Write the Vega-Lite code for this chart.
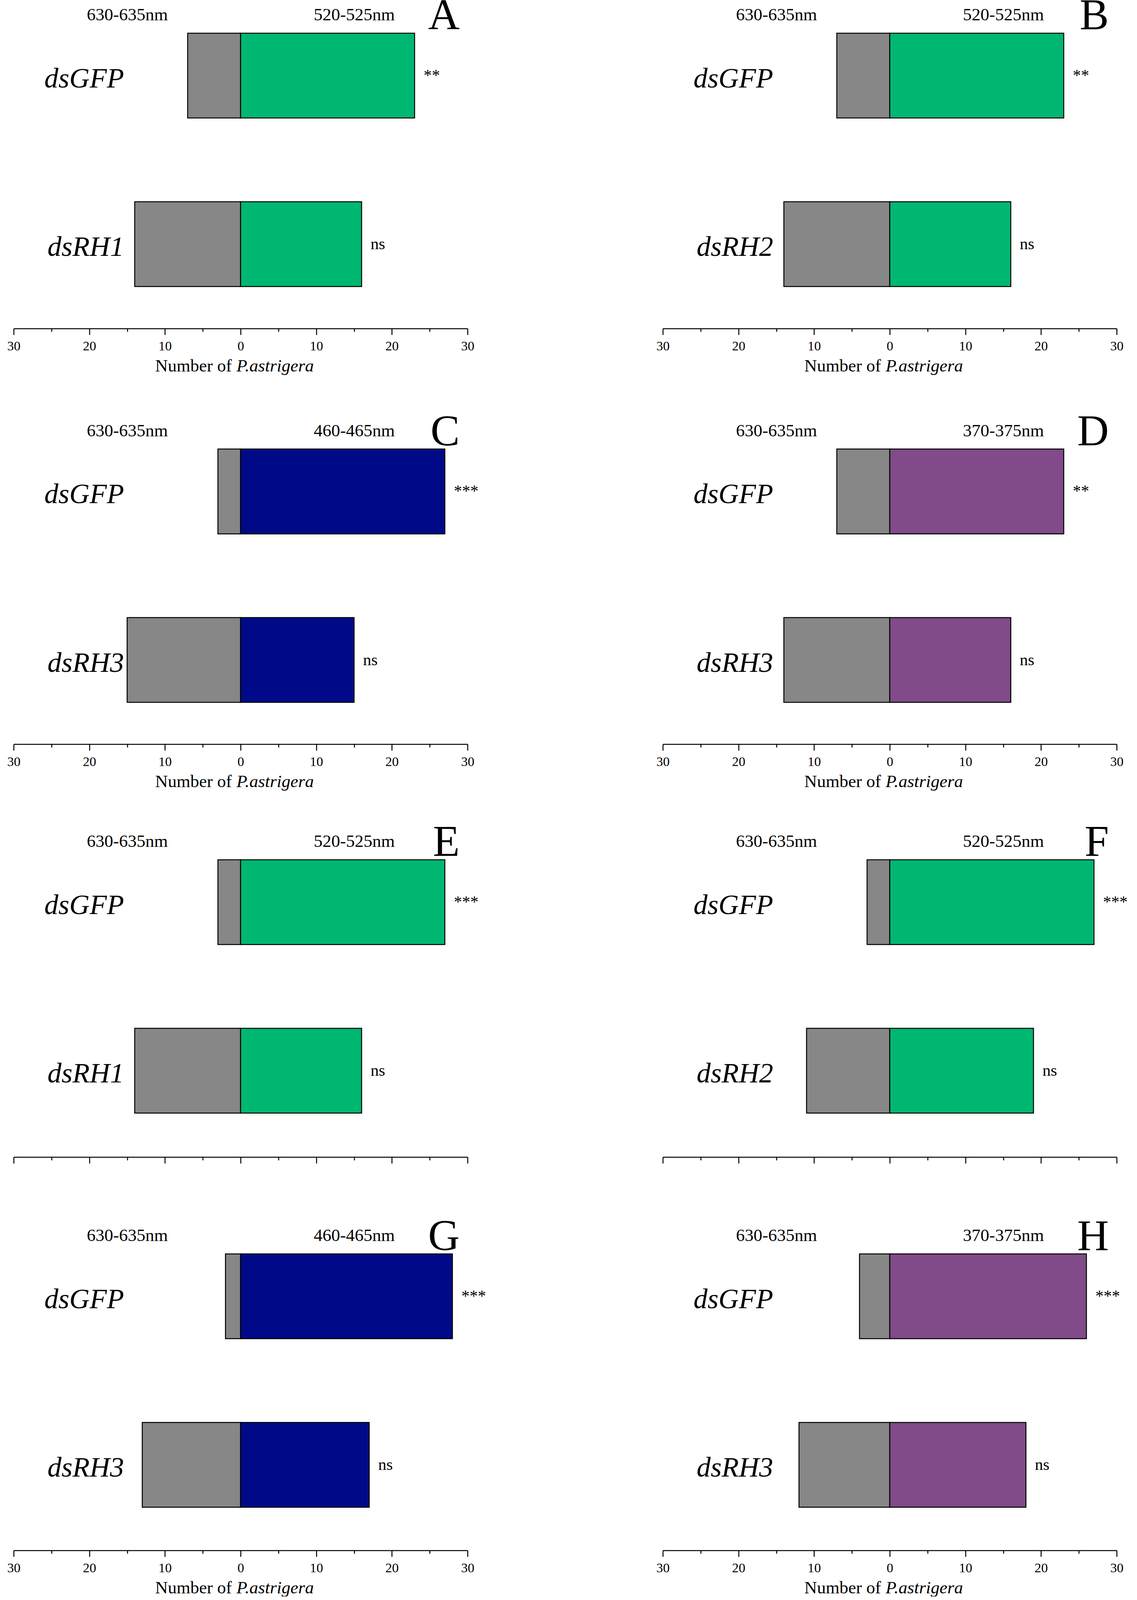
{
"$schema": "https://vega.github.io/schema/vega-lite/v6.json",
"background": "white",
"padding": {"left": 18, "top": -15, "right": 0, "bottom": 0},
"data": {"values": [
{"panel":"A","gene":"dsGFP","light":"630-635nm","signed_count":-7,"sig":""},
{"panel":"A","gene":"dsGFP","light":"520-525nm","signed_count":23,"sig":"**"},
{"panel":"A","gene":"dsRH1","light":"630-635nm","signed_count":-14,"sig":""},
{"panel":"A","gene":"dsRH1","light":"520-525nm","signed_count":16,"sig":"ns"},
{"panel":"B","gene":"dsGFP","light":"630-635nm","signed_count":-7,"sig":""},
{"panel":"B","gene":"dsGFP","light":"520-525nm","signed_count":23,"sig":"**"},
{"panel":"B","gene":"dsRH2","light":"630-635nm","signed_count":-14,"sig":""},
{"panel":"B","gene":"dsRH2","light":"520-525nm","signed_count":16,"sig":"ns"},
{"panel":"C","gene":"dsGFP","light":"630-635nm","signed_count":-3,"sig":""},
{"panel":"C","gene":"dsGFP","light":"460-465nm","signed_count":27,"sig":"***"},
{"panel":"C","gene":"dsRH3","light":"630-635nm","signed_count":-15,"sig":""},
{"panel":"C","gene":"dsRH3","light":"460-465nm","signed_count":15,"sig":"ns"},
{"panel":"D","gene":"dsGFP","light":"630-635nm","signed_count":-7,"sig":""},
{"panel":"D","gene":"dsGFP","light":"370-375nm","signed_count":23,"sig":"**"},
{"panel":"D","gene":"dsRH3","light":"630-635nm","signed_count":-14,"sig":""},
{"panel":"D","gene":"dsRH3","light":"370-375nm","signed_count":16,"sig":"ns"},
{"panel":"E","gene":"dsGFP","light":"630-635nm","signed_count":-3,"sig":""},
{"panel":"E","gene":"dsGFP","light":"520-525nm","signed_count":27,"sig":"***"},
{"panel":"E","gene":"dsRH1","light":"630-635nm","signed_count":-14,"sig":""},
{"panel":"E","gene":"dsRH1","light":"520-525nm","signed_count":16,"sig":"ns"},
{"panel":"F","gene":"dsGFP","light":"630-635nm","signed_count":-3,"sig":""},
{"panel":"F","gene":"dsGFP","light":"520-525nm","signed_count":27,"sig":"***"},
{"panel":"F","gene":"dsRH2","light":"630-635nm","signed_count":-11,"sig":""},
{"panel":"F","gene":"dsRH2","light":"520-525nm","signed_count":19,"sig":"ns"},
{"panel":"G","gene":"dsGFP","light":"630-635nm","signed_count":-2,"sig":""},
{"panel":"G","gene":"dsGFP","light":"460-465nm","signed_count":28,"sig":"***"},
{"panel":"G","gene":"dsRH3","light":"630-635nm","signed_count":-13,"sig":""},
{"panel":"G","gene":"dsRH3","light":"460-465nm","signed_count":17,"sig":"ns"},
{"panel":"H","gene":"dsGFP","light":"630-635nm","signed_count":-4,"sig":""},
{"panel":"H","gene":"dsGFP","light":"370-375nm","signed_count":26,"sig":"***"},
{"panel":"H","gene":"dsRH3","light":"630-635nm","signed_count":-12,"sig":""},
{"panel":"H","gene":"dsRH3","light":"370-375nm","signed_count":18,"sig":"ns"}
]},
"columns": 2,
"align": "each",
"spacing": {"row": 171, "column": 500},
"bounds": "flush",
"concat": [
  {"width":1162,"height":833,
   "title":{"text":"A","anchor":"end","frame":"group","fontSize":112,"baseline":"alphabetic","offset":-179,"dx":-20},
   "transform":[{"filter":"datum.panel === 'A'"}],
   "encoding":{"y":{"field":"gene","type":"nominal","sort":null,"scale":{"paddingInner":0.497,"paddingOuter":0.2138,"align":0.4173},"axis":{"title":null,"domain":false,"ticks":false,"tickSize":0,"labelPadding":-282,"labelFontSize":72,"labelFontStyle":"italic","labelAlign":"right","labelBaseline":"alphabetic","labelOffset":30}}},
   "layer":[
    {"transform":[{"filter":"datum.signed_count < 0"}],"mark":"bar","encoding":{"x":{"field":"signed_count","type":"quantitative","scale":{"domain":[-30,30],"nice":false},"axis":{"orient":"bottom","values":[-30,-25,-20,-15,-10,-5,0,5,10,15,20,25,30],"labelExpr":"datum.value % 10 === 0 ? '' + abs(datum.value) : ''","tickSize":{"condition":{"test":"datum.value % 10 === 0","value":16},"value":8},"tickWidth":2.5,"domainWidth":2.5,"labelFontSize":34,"labelPadding":12,"labelFlush":false,"labelOverlap":false,"labelBound":false,"title":"Number of","titleFontSize":45,"titleFontWeight":"normal","titleX":558,"titleY":109,"titleAlign":"right","titleBaseline":"alphabetic"}},"color":{"field":"light","type":"nominal","scale":{"domain":["630-635nm","520-525nm","460-465nm","370-375nm"],"range":["#878787","#00B772","#000A88","#814A89"]},"legend":null}}},
    {"transform":[{"filter":"datum.signed_count > 0"}],"mark":"bar","encoding":{"x":{"field":"signed_count","type":"quantitative","scale":{"domain":[-30,30],"nice":false},"axis":{"orient":"bottom","domain":false,"ticks":false,"labels":false,"title":"P.astrigera","titleFontStyle":"italic","titleFontSize":45,"titleFontWeight":"normal","titleX":570,"titleY":109,"titleAlign":"left","titleBaseline":"alphabetic"}},"color":{"field":"light","type":"nominal","scale":{"domain":["630-635nm","520-525nm","460-465nm","370-375nm"],"range":["#878787","#00B772","#000A88","#814A89"]},"legend":null}}},
    {"transform":[{"filter":"datum.signed_count > 0"}],"mark":{"type":"text","align":"left","baseline":"middle","dx":23,"fontSize":42},"encoding":{"x":{"field":"signed_count","type":"quantitative","scale":{"domain":[-30,30],"nice":false},"axis":{"orient":"top","values":[-15,15],"labelExpr":"datum.value < 0 ? '630-635nm' : '520-525nm'","domain":false,"ticks":false,"tickSize":0,"labelFontSize":45,"labelPadding":-43,"labelBaseline":"alphabetic","labelFlush":false,"labelOverlap":false,"title":null}},"text":{"field":"sig"}}}
   ],
   "resolve":{"axis":{"x":"independent"}}},
  {"width":1162,"height":833,
   "title":{"text":"B","anchor":"end","frame":"group","fontSize":112,"baseline":"alphabetic","offset":-179,"dx":-20},
   "transform":[{"filter":"datum.panel === 'B'"}],
   "encoding":{"y":{"field":"gene","type":"nominal","sort":null,"scale":{"paddingInner":0.497,"paddingOuter":0.2138,"align":0.4173},"axis":{"title":null,"domain":false,"ticks":false,"tickSize":0,"labelPadding":-282,"labelFontSize":72,"labelFontStyle":"italic","labelAlign":"right","labelBaseline":"alphabetic","labelOffset":30}}},
   "layer":[
    {"transform":[{"filter":"datum.signed_count < 0"}],"mark":"bar","encoding":{"x":{"field":"signed_count","type":"quantitative","scale":{"domain":[-30,30],"nice":false},"axis":{"orient":"bottom","values":[-30,-25,-20,-15,-10,-5,0,5,10,15,20,25,30],"labelExpr":"datum.value % 10 === 0 ? '' + abs(datum.value) : ''","tickSize":{"condition":{"test":"datum.value % 10 === 0","value":16},"value":8},"tickWidth":2.5,"domainWidth":2.5,"labelFontSize":34,"labelPadding":12,"labelFlush":false,"labelOverlap":false,"labelBound":false,"title":"Number of","titleFontSize":45,"titleFontWeight":"normal","titleX":558,"titleY":109,"titleAlign":"right","titleBaseline":"alphabetic"}},"color":{"field":"light","type":"nominal","scale":{"domain":["630-635nm","520-525nm","460-465nm","370-375nm"],"range":["#878787","#00B772","#000A88","#814A89"]},"legend":null}}},
    {"transform":[{"filter":"datum.signed_count > 0"}],"mark":"bar","encoding":{"x":{"field":"signed_count","type":"quantitative","scale":{"domain":[-30,30],"nice":false},"axis":{"orient":"bottom","domain":false,"ticks":false,"labels":false,"title":"P.astrigera","titleFontStyle":"italic","titleFontSize":45,"titleFontWeight":"normal","titleX":570,"titleY":109,"titleAlign":"left","titleBaseline":"alphabetic"}},"color":{"field":"light","type":"nominal","scale":{"domain":["630-635nm","520-525nm","460-465nm","370-375nm"],"range":["#878787","#00B772","#000A88","#814A89"]},"legend":null}}},
    {"transform":[{"filter":"datum.signed_count > 0"}],"mark":{"type":"text","align":"left","baseline":"middle","dx":23,"fontSize":42},"encoding":{"x":{"field":"signed_count","type":"quantitative","scale":{"domain":[-30,30],"nice":false},"axis":{"orient":"top","values":[-15,15],"labelExpr":"datum.value < 0 ? '630-635nm' : '520-525nm'","domain":false,"ticks":false,"tickSize":0,"labelFontSize":45,"labelPadding":-43,"labelBaseline":"alphabetic","labelFlush":false,"labelOverlap":false,"title":null}},"text":{"field":"sig"}}}
   ],
   "resolve":{"axis":{"x":"independent"}}},
  {"width":1162,"height":893,
   "title":{"text":"C","anchor":"end","frame":"group","fontSize":112,"baseline":"alphabetic","offset":-240,"dx":-20},
   "transform":[{"filter":"datum.panel === 'C'"}],
   "encoding":{"y":{"field":"gene","type":"nominal","sort":null,"scale":{"paddingInner":0.497,"paddingOuter":0.2833,"align":0.5628},"axis":{"title":null,"domain":false,"ticks":false,"tickSize":0,"labelPadding":-282,"labelFontSize":72,"labelFontStyle":"italic","labelAlign":"right","labelBaseline":"alphabetic","labelOffset":30}}},
   "layer":[
    {"transform":[{"filter":"datum.signed_count < 0"}],"mark":"bar","encoding":{"x":{"field":"signed_count","type":"quantitative","scale":{"domain":[-30,30],"nice":false},"axis":{"orient":"bottom","values":[-30,-25,-20,-15,-10,-5,0,5,10,15,20,25,30],"labelExpr":"datum.value % 10 === 0 ? '' + abs(datum.value) : ''","tickSize":{"condition":{"test":"datum.value % 10 === 0","value":16},"value":8},"tickWidth":2.5,"domainWidth":2.5,"labelFontSize":34,"labelPadding":12,"labelFlush":false,"labelOverlap":false,"labelBound":false,"title":"Number of","titleFontSize":45,"titleFontWeight":"normal","titleX":558,"titleY":109,"titleAlign":"right","titleBaseline":"alphabetic"}},"color":{"field":"light","type":"nominal","scale":{"domain":["630-635nm","520-525nm","460-465nm","370-375nm"],"range":["#878787","#00B772","#000A88","#814A89"]},"legend":null}}},
    {"transform":[{"filter":"datum.signed_count > 0"}],"mark":"bar","encoding":{"x":{"field":"signed_count","type":"quantitative","scale":{"domain":[-30,30],"nice":false},"axis":{"orient":"bottom","domain":false,"ticks":false,"labels":false,"title":"P.astrigera","titleFontStyle":"italic","titleFontSize":45,"titleFontWeight":"normal","titleX":570,"titleY":109,"titleAlign":"left","titleBaseline":"alphabetic"}},"color":{"field":"light","type":"nominal","scale":{"domain":["630-635nm","520-525nm","460-465nm","370-375nm"],"range":["#878787","#00B772","#000A88","#814A89"]},"legend":null}}},
    {"transform":[{"filter":"datum.signed_count > 0"}],"mark":{"type":"text","align":"left","baseline":"middle","dx":23,"fontSize":42},"encoding":{"x":{"field":"signed_count","type":"quantitative","scale":{"domain":[-30,30],"nice":false},"axis":{"orient":"top","values":[-15,15],"labelExpr":"datum.value < 0 ? '630-635nm' : '460-465nm'","domain":false,"ticks":false,"tickSize":0,"labelFontSize":45,"labelPadding":-104,"labelBaseline":"alphabetic","labelFlush":false,"labelOverlap":false,"title":null}},"text":{"field":"sig"}}}
   ],
   "resolve":{"axis":{"x":"independent"}}},
  {"width":1162,"height":893,
   "title":{"text":"D","anchor":"end","frame":"group","fontSize":112,"baseline":"alphabetic","offset":-240,"dx":-20},
   "transform":[{"filter":"datum.panel === 'D'"}],
   "encoding":{"y":{"field":"gene","type":"nominal","sort":null,"scale":{"paddingInner":0.497,"paddingOuter":0.2833,"align":0.5628},"axis":{"title":null,"domain":false,"ticks":false,"tickSize":0,"labelPadding":-282,"labelFontSize":72,"labelFontStyle":"italic","labelAlign":"right","labelBaseline":"alphabetic","labelOffset":30}}},
   "layer":[
    {"transform":[{"filter":"datum.signed_count < 0"}],"mark":"bar","encoding":{"x":{"field":"signed_count","type":"quantitative","scale":{"domain":[-30,30],"nice":false},"axis":{"orient":"bottom","values":[-30,-25,-20,-15,-10,-5,0,5,10,15,20,25,30],"labelExpr":"datum.value % 10 === 0 ? '' + abs(datum.value) : ''","tickSize":{"condition":{"test":"datum.value % 10 === 0","value":16},"value":8},"tickWidth":2.5,"domainWidth":2.5,"labelFontSize":34,"labelPadding":12,"labelFlush":false,"labelOverlap":false,"labelBound":false,"title":"Number of","titleFontSize":45,"titleFontWeight":"normal","titleX":558,"titleY":109,"titleAlign":"right","titleBaseline":"alphabetic"}},"color":{"field":"light","type":"nominal","scale":{"domain":["630-635nm","520-525nm","460-465nm","370-375nm"],"range":["#878787","#00B772","#000A88","#814A89"]},"legend":null}}},
    {"transform":[{"filter":"datum.signed_count > 0"}],"mark":"bar","encoding":{"x":{"field":"signed_count","type":"quantitative","scale":{"domain":[-30,30],"nice":false},"axis":{"orient":"bottom","domain":false,"ticks":false,"labels":false,"title":"P.astrigera","titleFontStyle":"italic","titleFontSize":45,"titleFontWeight":"normal","titleX":570,"titleY":109,"titleAlign":"left","titleBaseline":"alphabetic"}},"color":{"field":"light","type":"nominal","scale":{"domain":["630-635nm","520-525nm","460-465nm","370-375nm"],"range":["#878787","#00B772","#000A88","#814A89"]},"legend":null}}},
    {"transform":[{"filter":"datum.signed_count > 0"}],"mark":{"type":"text","align":"left","baseline":"middle","dx":23,"fontSize":42},"encoding":{"x":{"field":"signed_count","type":"quantitative","scale":{"domain":[-30,30],"nice":false},"axis":{"orient":"top","values":[-15,15],"labelExpr":"datum.value < 0 ? '630-635nm' : '370-375nm'","domain":false,"ticks":false,"tickSize":0,"labelFontSize":45,"labelPadding":-104,"labelBaseline":"alphabetic","labelFlush":false,"labelOverlap":false,"title":null}},"text":{"field":"sig"}}}
   ],
   "resolve":{"axis":{"x":"independent"}}},
  {"width":1162,"height":886,
   "title":{"text":"E","anchor":"end","frame":"group","fontSize":112,"baseline":"alphabetic","offset":-227,"dx":-20},
   "transform":[{"filter":"datum.panel === 'E'"}],
   "encoding":{"y":{"field":"gene","type":"nominal","sort":null,"scale":{"paddingInner":0.497,"paddingOuter":0.2752,"align":0.5263},"axis":{"title":null,"domain":false,"ticks":false,"tickSize":0,"labelPadding":-282,"labelFontSize":72,"labelFontStyle":"italic","labelAlign":"right","labelBaseline":"alphabetic","labelOffset":30}}},
   "layer":[
    {"transform":[{"filter":"datum.signed_count < 0"}],"mark":"bar","encoding":{"x":{"field":"signed_count","type":"quantitative","scale":{"domain":[-30,30],"nice":false},"axis":{"orient":"bottom","values":[-30,-25,-20,-15,-10,-5,0,5,10,15,20,25,30],"labels":false,"tickSize":{"condition":{"test":"datum.value % 10 === 0","value":16},"value":8},"tickWidth":2.5,"domainWidth":2.5,"title":null}},"color":{"field":"light","type":"nominal","scale":{"domain":["630-635nm","520-525nm","460-465nm","370-375nm"],"range":["#878787","#00B772","#000A88","#814A89"]},"legend":null}}},
    {"transform":[{"filter":"datum.signed_count > 0"}],"mark":"bar","encoding":{"x":{"field":"signed_count","type":"quantitative","scale":{"domain":[-30,30],"nice":false},"axis":null},"color":{"field":"light","type":"nominal","scale":{"domain":["630-635nm","520-525nm","460-465nm","370-375nm"],"range":["#878787","#00B772","#000A88","#814A89"]},"legend":null}}},
    {"transform":[{"filter":"datum.signed_count > 0"}],"mark":{"type":"text","align":"left","baseline":"middle","dx":23,"fontSize":42},"encoding":{"x":{"field":"signed_count","type":"quantitative","scale":{"domain":[-30,30],"nice":false},"axis":{"orient":"top","values":[-15,15],"labelExpr":"datum.value < 0 ? '630-635nm' : '520-525nm'","domain":false,"ticks":false,"tickSize":0,"labelFontSize":45,"labelPadding":-91,"labelBaseline":"alphabetic","labelFlush":false,"labelOverlap":false,"title":null}},"text":{"field":"sig"}}}
   ],
   "resolve":{"axis":{"x":"independent"}}},
  {"width":1162,"height":886,
   "title":{"text":"F","anchor":"end","frame":"group","fontSize":112,"baseline":"alphabetic","offset":-227,"dx":-20},
   "transform":[{"filter":"datum.panel === 'F'"}],
   "encoding":{"y":{"field":"gene","type":"nominal","sort":null,"scale":{"paddingInner":0.497,"paddingOuter":0.2752,"align":0.5263},"axis":{"title":null,"domain":false,"ticks":false,"tickSize":0,"labelPadding":-282,"labelFontSize":72,"labelFontStyle":"italic","labelAlign":"right","labelBaseline":"alphabetic","labelOffset":30}}},
   "layer":[
    {"transform":[{"filter":"datum.signed_count < 0"}],"mark":"bar","encoding":{"x":{"field":"signed_count","type":"quantitative","scale":{"domain":[-30,30],"nice":false},"axis":{"orient":"bottom","values":[-30,-25,-20,-15,-10,-5,0,5,10,15,20,25,30],"labels":false,"tickSize":{"condition":{"test":"datum.value % 10 === 0","value":16},"value":8},"tickWidth":2.5,"domainWidth":2.5,"title":null}},"color":{"field":"light","type":"nominal","scale":{"domain":["630-635nm","520-525nm","460-465nm","370-375nm"],"range":["#878787","#00B772","#000A88","#814A89"]},"legend":null}}},
    {"transform":[{"filter":"datum.signed_count > 0"}],"mark":"bar","encoding":{"x":{"field":"signed_count","type":"quantitative","scale":{"domain":[-30,30],"nice":false},"axis":null},"color":{"field":"light","type":"nominal","scale":{"domain":["630-635nm","520-525nm","460-465nm","370-375nm"],"range":["#878787","#00B772","#000A88","#814A89"]},"legend":null}}},
    {"transform":[{"filter":"datum.signed_count > 0"}],"mark":{"type":"text","align":"left","baseline":"middle","dx":23,"fontSize":42},"encoding":{"x":{"field":"signed_count","type":"quantitative","scale":{"domain":[-30,30],"nice":false},"axis":{"orient":"top","values":[-15,15],"labelExpr":"datum.value < 0 ? '630-635nm' : '520-525nm'","domain":false,"ticks":false,"tickSize":0,"labelFontSize":45,"labelPadding":-91,"labelBaseline":"alphabetic","labelFlush":false,"labelOverlap":false,"title":null}},"text":{"field":"sig"}}}
   ],
   "resolve":{"axis":{"x":"independent"}}},
  {"width":1162,"height":836,
   "title":{"text":"G","anchor":"end","frame":"group","fontSize":112,"baseline":"alphabetic","offset":-179,"dx":-20},
   "transform":[{"filter":"datum.panel === 'G'"}],
   "encoding":{"y":{"field":"gene","type":"nominal","sort":null,"scale":{"paddingInner":0.497,"paddingOuter":0.2173,"align":0.4107},"axis":{"title":null,"domain":false,"ticks":false,"tickSize":0,"labelPadding":-282,"labelFontSize":72,"labelFontStyle":"italic","labelAlign":"right","labelBaseline":"alphabetic","labelOffset":30}}},
   "layer":[
    {"transform":[{"filter":"datum.signed_count < 0"}],"mark":"bar","encoding":{"x":{"field":"signed_count","type":"quantitative","scale":{"domain":[-30,30],"nice":false},"axis":{"orient":"bottom","values":[-30,-25,-20,-15,-10,-5,0,5,10,15,20,25,30],"labelExpr":"datum.value % 10 === 0 ? '' + abs(datum.value) : ''","tickSize":{"condition":{"test":"datum.value % 10 === 0","value":16},"value":8},"tickWidth":2.5,"domainWidth":2.5,"labelFontSize":34,"labelPadding":12,"labelFlush":false,"labelOverlap":false,"labelBound":false,"title":"Number of","titleFontSize":45,"titleFontWeight":"normal","titleX":558,"titleY":109,"titleAlign":"right","titleBaseline":"alphabetic"}},"color":{"field":"light","type":"nominal","scale":{"domain":["630-635nm","520-525nm","460-465nm","370-375nm"],"range":["#878787","#00B772","#000A88","#814A89"]},"legend":null}}},
    {"transform":[{"filter":"datum.signed_count > 0"}],"mark":"bar","encoding":{"x":{"field":"signed_count","type":"quantitative","scale":{"domain":[-30,30],"nice":false},"axis":{"orient":"bottom","domain":false,"ticks":false,"labels":false,"title":"P.astrigera","titleFontStyle":"italic","titleFontSize":45,"titleFontWeight":"normal","titleX":570,"titleY":109,"titleAlign":"left","titleBaseline":"alphabetic"}},"color":{"field":"light","type":"nominal","scale":{"domain":["630-635nm","520-525nm","460-465nm","370-375nm"],"range":["#878787","#00B772","#000A88","#814A89"]},"legend":null}}},
    {"transform":[{"filter":"datum.signed_count > 0"}],"mark":{"type":"text","align":"left","baseline":"middle","dx":23,"fontSize":42},"encoding":{"x":{"field":"signed_count","type":"quantitative","scale":{"domain":[-30,30],"nice":false},"axis":{"orient":"top","values":[-15,15],"labelExpr":"datum.value < 0 ? '630-635nm' : '460-465nm'","domain":false,"ticks":false,"tickSize":0,"labelFontSize":45,"labelPadding":-43,"labelBaseline":"alphabetic","labelFlush":false,"labelOverlap":false,"title":null}},"text":{"field":"sig"}}}
   ],
   "resolve":{"axis":{"x":"independent"}}},
  {"width":1162,"height":836,
   "title":{"text":"H","anchor":"end","frame":"group","fontSize":112,"baseline":"alphabetic","offset":-179,"dx":-20},
   "transform":[{"filter":"datum.panel === 'H'"}],
   "encoding":{"y":{"field":"gene","type":"nominal","sort":null,"scale":{"paddingInner":0.497,"paddingOuter":0.2173,"align":0.4107},"axis":{"title":null,"domain":false,"ticks":false,"tickSize":0,"labelPadding":-282,"labelFontSize":72,"labelFontStyle":"italic","labelAlign":"right","labelBaseline":"alphabetic","labelOffset":30}}},
   "layer":[
    {"transform":[{"filter":"datum.signed_count < 0"}],"mark":"bar","encoding":{"x":{"field":"signed_count","type":"quantitative","scale":{"domain":[-30,30],"nice":false},"axis":{"orient":"bottom","values":[-30,-25,-20,-15,-10,-5,0,5,10,15,20,25,30],"labelExpr":"datum.value % 10 === 0 ? '' + abs(datum.value) : ''","tickSize":{"condition":{"test":"datum.value % 10 === 0","value":16},"value":8},"tickWidth":2.5,"domainWidth":2.5,"labelFontSize":34,"labelPadding":12,"labelFlush":false,"labelOverlap":false,"labelBound":false,"title":"Number of","titleFontSize":45,"titleFontWeight":"normal","titleX":558,"titleY":109,"titleAlign":"right","titleBaseline":"alphabetic"}},"color":{"field":"light","type":"nominal","scale":{"domain":["630-635nm","520-525nm","460-465nm","370-375nm"],"range":["#878787","#00B772","#000A88","#814A89"]},"legend":null}}},
    {"transform":[{"filter":"datum.signed_count > 0"}],"mark":"bar","encoding":{"x":{"field":"signed_count","type":"quantitative","scale":{"domain":[-30,30],"nice":false},"axis":{"orient":"bottom","domain":false,"ticks":false,"labels":false,"title":"P.astrigera","titleFontStyle":"italic","titleFontSize":45,"titleFontWeight":"normal","titleX":570,"titleY":109,"titleAlign":"left","titleBaseline":"alphabetic"}},"color":{"field":"light","type":"nominal","scale":{"domain":["630-635nm","520-525nm","460-465nm","370-375nm"],"range":["#878787","#00B772","#000A88","#814A89"]},"legend":null}}},
    {"transform":[{"filter":"datum.signed_count > 0"}],"mark":{"type":"text","align":"left","baseline":"middle","dx":23,"fontSize":42},"encoding":{"x":{"field":"signed_count","type":"quantitative","scale":{"domain":[-30,30],"nice":false},"axis":{"orient":"top","values":[-15,15],"labelExpr":"datum.value < 0 ? '630-635nm' : '370-375nm'","domain":false,"ticks":false,"tickSize":0,"labelFontSize":45,"labelPadding":-43,"labelBaseline":"alphabetic","labelFlush":false,"labelOverlap":false,"title":null}},"text":{"field":"sig"}}}
   ],
   "resolve":{"axis":{"x":"independent"}}}
],
"config": {
 "view": {"stroke": null},
 "font": "Liberation Serif",
 "axis": {"grid": false, "labelLimit": 0, "domainColor": "black", "tickColor": "black", "labelColor": "black", "titleColor": "black", "labelFont": "Liberation Serif", "titleFont": "Liberation Serif"},
 "title": {"font": "Liberation Serif", "color": "black", "fontWeight": "normal"},
 "bar": {"stroke": "black", "strokeWidth": 2.5},
 "text": {"font": "Liberation Serif", "color": "black"}
}
}
